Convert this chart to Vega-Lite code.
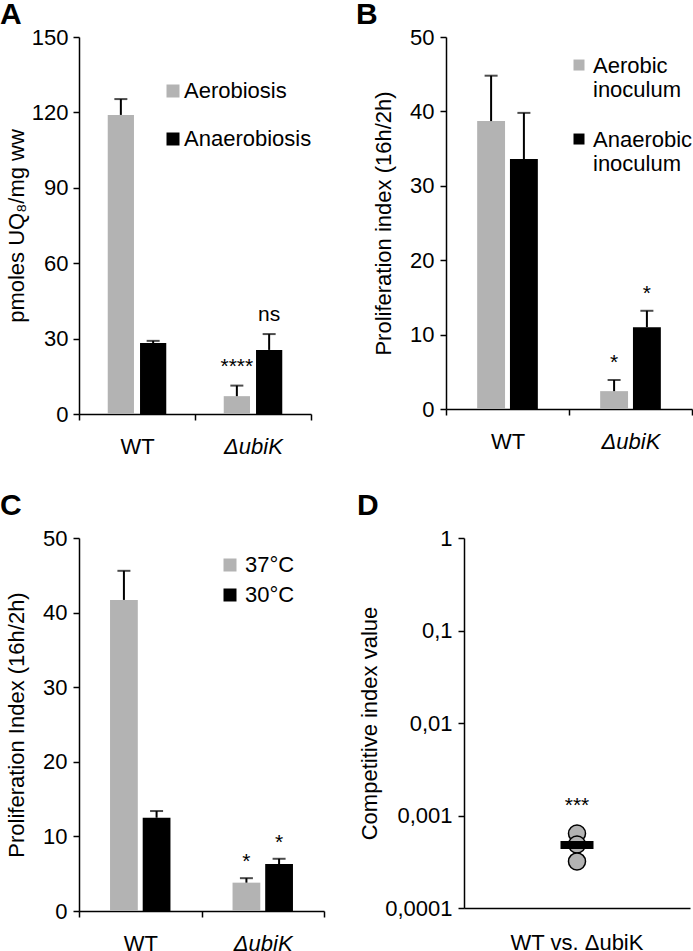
{
  "$schema": "https://vega.github.io/schema/vega-lite/v6.json",
  "padding": 0,
  "autosize": {"type": "pad"},
  "background": "white",
  "config": {
    "font": "Liberation Sans",
    "view": {"stroke": null},
    "axis": {
      "domainColor": "black", "domainWidth": 1.5, "tickColor": "black", "tickWidth": 1.5, "tickSize": 6,
      "labelFontSize": 22, "labelColor": "black", "labelFont": "Liberation Sans",
      "titleFontSize": 22, "titleFontWeight": "normal", "titleColor": "black", "titleFont": "Liberation Sans",
      "grid": false
    },
    "legend": {"labelFontSize": 22, "labelColor": "black", "labelFont": "Liberation Sans", "symbolType": "square", "symbolStrokeWidth": 0, "symbolOpacity": 1, "labelLimit": 300},
    "title": {"fontSize": 30, "fontWeight": "bold", "anchor": "start", "frame": "group", "color": "black", "font": "Liberation Sans"}
  },
  "spacing": 34,
  "resolve": {"scale": {"color": "independent", "xOffset": "independent", "x": "independent", "y": "independent"}, "legend": {"color": "independent"}},
  "vconcat": [
    {
      "hconcat": [
        {
          "width": 232, "height": 377,
          "title": {"text": "A", "dx": -79, "offset": -4},
          "data": {"values": [
            {"g": "WT", "c": "Aerobiosis", "v": 119, "u": 125.3},
            {"g": "WT", "c": "Anaerobiosis", "v": 28.2, "u": 29.1},
            {"g": "ΔubiK", "c": "Aerobiosis", "v": 7.1, "u": 11.3},
            {"g": "ΔubiK", "c": "Anaerobiosis", "v": 25.5, "u": 31.8}
          ]},
          "encoding": {
            "x": {"field": "g", "type": "nominal", "sort": ["WT", "ΔubiK"], "scale": {"paddingInner": 0, "paddingOuter": 0},
              "axis": {"title": null, "labelAngle": 0, "tickBand": "extent", "labelPadding": 16,
                "labelFontStyle": {"condition": {"test": "datum.value === 'WT'", "value": "normal"}, "value": "italic"}}},
            "xOffset": {"field": "c", "type": "nominal", "sort": ["Aerobiosis", "Anaerobiosis"], "scale": {"paddingInner": 0.1875, "paddingOuter": 0.89}}
          },
          "layer": [
            {"mark": {"type": "bar"},
             "encoding": {
               "y": {"field": "v", "type": "quantitative", "title": "pmoles UQ₈/mg ww", "scale": {"domain": [0, 150], "nice": false},
                 "axis": {"values": [0, 30, 60, 90, 120, 150], "labelPadding": 5, "titlePadding": 3}},
               "color": {"field": "c", "type": "nominal", "sort": ["Aerobiosis", "Anaerobiosis"], "scale": {"range": ["#b3b3b3", "#000000"]},
                 "legend": {"orient": "none", "legendX": 83, "legendY": 43, "title": null, "symbolSize": 169, "rowPadding": 26, "labelOffset": 0}}
             }},
            {"mark": {"type": "rule", "strokeWidth": 2, "color": "black"},
             "encoding": {"y": {"field": "v", "type": "quantitative", "title": "pmoles UQ₈/mg ww", "scale": {"domain": [0, 150], "nice": false}}, "y2": {"field": "u"}}},
            {"mark": {"type": "tick", "size": 13, "thickness": 2, "color": "black"},
             "encoding": {"y": {"field": "u", "type": "quantitative", "title": "pmoles UQ₈/mg ww", "scale": {"domain": [0, 150], "nice": false}}}},
            {"data": {"values": [
               {"g": "ΔubiK", "c": "Aerobiosis", "t": "****", "y": 16.3},
               {"g": "ΔubiK", "c": "Anaerobiosis", "t": "ns", "y": 37}
             ]},
             "mark": {"type": "text", "fontSize": 21, "baseline": "alphabetic", "color": "black"},
             "encoding": {"y": {"field": "y", "type": "quantitative", "title": "pmoles UQ₈/mg ww", "scale": {"domain": [0, 150], "nice": false}}, "text": {"field": "t"}}}
          ]
        },
        {
          "width": 246, "height": 372,
          "title": {"text": "B", "dx": -90, "offset": -4},
          "data": {"values": [
            {"g": "WT", "c": "Aerobic|inoculum", "v": 38.7, "u": 44.8},
            {"g": "WT", "c": "Anaerobic|inoculum", "v": 33.6, "u": 39.8},
            {"g": "ΔubiK", "c": "Aerobic|inoculum", "v": 2.4, "u": 3.9},
            {"g": "ΔubiK", "c": "Anaerobic|inoculum", "v": 11.0, "u": 13.2}
          ]},
          "encoding": {
            "x": {"field": "g", "type": "nominal", "sort": ["WT", "ΔubiK"], "scale": {"paddingInner": 0, "paddingOuter": 0},
              "axis": {"title": null, "labelAngle": 0, "tickBand": "extent", "labelPadding": 16,
                "labelFontStyle": {"condition": {"test": "datum.value === 'WT'", "value": "normal"}, "value": "italic"}}},
            "xOffset": {"field": "c", "type": "nominal", "sort": ["Aerobic|inoculum", "Anaerobic|inoculum"], "scale": {"paddingInner": 0.15, "paddingOuter": 0.95}}
          },
          "layer": [
            {"mark": {"type": "bar"},
             "encoding": {
               "y": {"field": "v", "type": "quantitative", "title": "Proliferation index (16h/2h)", "scale": {"domain": [0, 50], "nice": false},
                 "axis": {"values": [0, 10, 20, 30, 40, 50], "labelPadding": 6, "titlePadding": 14}},
               "color": {"field": "c", "type": "nominal", "sort": ["Aerobic|inoculum", "Anaerobic|inoculum"], "scale": {"range": ["#b3b3b3", "#000000"]},
                 "legend": {"orient": "none", "legendX": 122, "legendY": 25, "title": null, "symbolSize": 121, "rowPadding": 28, "labelOffset": 3,
                   "symbolType": "M-1,-2.45H1V-0.45H-1Z",
                   "labelExpr": "split(datum.label, '|')", "labelBaseline": "alphabetic", "labelLineHeight": 24}}
             }},
            {"mark": {"type": "rule", "strokeWidth": 2, "color": "black"},
             "encoding": {"y": {"field": "v", "type": "quantitative", "title": "Proliferation index (16h/2h)"}, "y2": {"field": "u"}}},
            {"mark": {"type": "tick", "size": 13, "thickness": 2, "color": "black"},
             "encoding": {"y": {"field": "u", "type": "quantitative", "title": "Proliferation index (16h/2h)"}}},
            {"data": {"values": [
               {"g": "ΔubiK", "c": "Aerobic|inoculum", "t": "*", "y": 5.4},
               {"g": "ΔubiK", "c": "Anaerobic|inoculum", "t": "*", "y": 14.6}
             ]},
             "mark": {"type": "text", "fontSize": 21, "baseline": "alphabetic", "color": "black"},
             "encoding": {"y": {"field": "y", "type": "quantitative", "title": "Proliferation index (16h/2h)"}, "text": {"field": "t"}}}
          ]
        }
      ],
      "spacing": 135,
      "bounds": "flush",
      "resolve": {"scale": {"color": "independent", "xOffset": "independent", "x": "independent", "y": "independent"}, "legend": {"color": "independent"}}
    },
    {
      "hconcat": [
        {
          "width": 245, "height": 373,
          "title": {"text": "C", "dx": -79, "offset": 6},
          "data": {"values": [
            {"g": "WT", "c": "37°C", "v": 41.7, "u": 45.6},
            {"g": "WT", "c": "30°C", "v": 12.5, "u": 13.4},
            {"g": "ΔubiK", "c": "37°C", "v": 3.8, "u": 4.4},
            {"g": "ΔubiK", "c": "30°C", "v": 6.3, "u": 7.0}
          ]},
          "encoding": {
            "x": {"field": "g", "type": "nominal", "sort": ["WT", "ΔubiK"], "scale": {"paddingInner": 0, "paddingOuter": 0},
              "axis": {"title": null, "labelAngle": 0, "tickBand": "extent", "labelPadding": 16,
                "labelFontStyle": {"condition": {"test": "datum.value === 'WT'", "value": "normal"}, "value": "italic"}}},
            "xOffset": {"field": "c", "type": "nominal", "sort": ["37°C", "30°C"], "scale": {"paddingInner": 0.15, "paddingOuter": 0.95}}
          },
          "layer": [
            {"mark": {"type": "bar"},
             "encoding": {
               "y": {"field": "v", "type": "quantitative", "title": "Proliferation Index (16h/2h)", "scale": {"domain": [0, 50], "nice": false},
                 "axis": {"values": [0, 10, 20, 30, 40, 50], "labelPadding": 6, "titlePadding": 14}},
               "color": {"field": "c", "type": "nominal", "sort": ["37°C", "30°C"], "scale": {"range": ["#b3b3b3", "#000000"]},
                 "legend": {"orient": "none", "legendX": 140, "legendY": 16, "title": null, "symbolSize": 169, "rowPadding": 8, "labelOffset": 4}}
             }},
            {"mark": {"type": "rule", "strokeWidth": 2, "color": "black"},
             "encoding": {"y": {"field": "v", "type": "quantitative", "title": "Proliferation Index (16h/2h)"}, "y2": {"field": "u"}}},
            {"mark": {"type": "tick", "size": 13, "thickness": 2, "color": "black"},
             "encoding": {"y": {"field": "u", "type": "quantitative", "title": "Proliferation Index (16h/2h)"}}},
            {"data": {"values": [
               {"g": "ΔubiK", "c": "37°C", "t": "*", "y": 5.8},
               {"g": "ΔubiK", "c": "30°C", "t": "*", "y": 8.3}
             ]},
             "mark": {"type": "text", "fontSize": 21, "baseline": "alphabetic", "color": "black"},
             "encoding": {"y": {"field": "y", "type": "quantitative", "title": "Proliferation Index (16h/2h)"}, "text": {"field": "t"}}}
          ]
        },
        {
          "width": 226, "height": 370,
          "title": {"text": "D", "dx": -107, "offset": 6},
          "data": {"values": [
            {"x": "WT vs. ΔubiK", "ci": 0.000638},
            {"x": "WT vs. ΔubiK", "ci": 0.000486},
            {"x": "WT vs. ΔubiK", "ci": 0.000319}
          ]},
          "encoding": {
            "x": {"field": "x", "type": "nominal", "axis": {"title": null, "labelAngle": 0, "ticks": false, "labelPadding": 24}}
          },
          "layer": [
            {"mark": {"type": "point", "shape": "circle", "filled": true, "size": 290, "fill": "#b3b3b3", "stroke": "black", "strokeWidth": 1.5, "opacity": 1},
             "encoding": {
               "y": {"field": "ci", "type": "quantitative", "title": "Competitive index value", "scale": {"type": "log", "domain": [0.0001, 1]},
                 "axis": {"values": [0.0001, 0.001, 0.01, 0.1, 1], "labelExpr": "replace(toString(datum.value), '.', ',')", "labelPadding": 6, "titlePadding": 3}}
             }},
            {"mark": {"type": "tick", "size": 33, "thickness": 8, "color": "black", "opacity": 1},
             "encoding": {"y": {"aggregate": "mean", "field": "ci", "type": "quantitative", "title": "Competitive index value"}}},
            {"data": {"values": [{"x": "WT vs. ΔubiK", "t": "***", "y": 0.0011}]},
             "mark": {"type": "text", "fontSize": 21, "baseline": "alphabetic", "color": "black"},
             "encoding": {"y": {"field": "y", "type": "quantitative", "title": "Competitive index value"}, "text": {"field": "t"}}}
          ]
        }
      ],
      "spacing": 140,
      "bounds": "flush",
      "resolve": {"scale": {"color": "independent", "xOffset": "independent", "x": "independent", "y": "independent"}, "legend": {"color": "independent"}}
    }
  ]
}
